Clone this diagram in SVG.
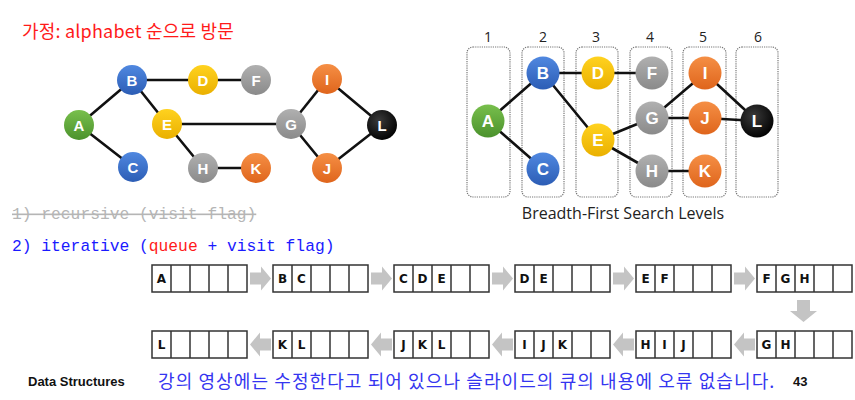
<svg xmlns="http://www.w3.org/2000/svg" xmlns:xlink="http://www.w3.org/1999/xlink" width="855" height="400" viewBox="0 0 855 400">
<style>
.edge{stroke:#111;stroke-width:2.6;fill:none;stroke-linecap:round}
.nl{font-family:"Liberation Sans",Arial,sans-serif;font-weight:bold;fill:#fff;text-anchor:middle}
.nl1{font-size:15px}
.nl2{font-size:17px}
.lvl{fill:none;stroke:#777;stroke-width:1.2;stroke-dasharray:1.2 1}
.lvn{font-family:"Open Sans","Liberation Sans",sans-serif;font-size:14px;fill:#222;text-anchor:middle}
.qc{fill:#fff;stroke:#333;stroke-width:1.5}
.ql{stroke:#333;stroke-width:1.5}
.qt{font-family:"DejaVu Sans",Verdana,sans-serif;font-weight:bold;font-size:12px;fill:#111;text-anchor:middle}
.arr{fill:#c4c4c4}
.mono{font-family:"Liberation Mono","DejaVu Sans Mono",monospace;font-size:16.3px}
.foot{font-family:"Liberation Sans",Arial,sans-serif;font-weight:bold;font-size:13px;fill:#111}
</style>
<defs>
<linearGradient id="gBlue" x1="0" y1="0" x2="0" y2="1"><stop offset="0" stop-color="#5088e0"/><stop offset="1" stop-color="#2c5db5"/></linearGradient>
<linearGradient id="gGreen" x1="0" y1="0" x2="0" y2="1"><stop offset="0" stop-color="#78bf4c"/><stop offset="1" stop-color="#4b922d"/></linearGradient>
<linearGradient id="gYellow" x1="0" y1="0" x2="0" y2="1"><stop offset="0" stop-color="#ffd21f"/><stop offset="1" stop-color="#eab000"/></linearGradient>
<linearGradient id="gGray" x1="0" y1="0" x2="0" y2="1"><stop offset="0" stop-color="#b0b0b0"/><stop offset="1" stop-color="#8a8a8a"/></linearGradient>
<linearGradient id="gOrange" x1="0" y1="0" x2="0" y2="1"><stop offset="0" stop-color="#f58f45"/><stop offset="1" stop-color="#df651c"/></linearGradient>
<radialGradient id="gBlack" cx="0.4" cy="0.35" r="0.7"><stop offset="0" stop-color="#3a3a3a"/><stop offset="1" stop-color="#000"/></radialGradient>
<g id="queue">
<rect class="qc" x="0" y="0" width="95" height="27"/>
<path class="ql" d="M19,0V27M38,0V27M57,0V27M76,0V27"/>
</g>
<path id="ra" class="arr" d="M0,-6H11V-12L21,0L11,12V6H0Z"/>
<path id="la" class="arr" d="M21,-6H10V-12L0,0L10,12V6H21Z"/>
</defs>

<text x="22" y="38" font-family="'Noto Sans CJK KR','Malgun Gothic',sans-serif" font-size="18" letter-spacing="0.2" fill="#ff1a1a">가정: alphabet 순으로 방문</text>

<!-- left graph connectors -->
<g id="left-edges">
<line class="edge" x1="79" y1="125" x2="132" y2="80"/>
<line class="edge" x1="79" y1="125" x2="133" y2="167"/>
<line class="edge" x1="132" y1="80" x2="203" y2="80"/>
<line class="edge" x1="203" y1="80" x2="256" y2="80"/>
<line class="edge" x1="132" y1="80" x2="167" y2="124"/>
<line class="edge" x1="167" y1="124" x2="291" y2="124"/>
<line class="edge" x1="167" y1="124" x2="203" y2="168"/>
<line class="edge" x1="203" y1="168" x2="256" y2="168"/>
<line class="edge" x1="291" y1="124" x2="327" y2="79"/>
<line class="edge" x1="291" y1="124" x2="327" y2="168"/>
<line class="edge" x1="327" y1="79" x2="382" y2="125"/>
<line class="edge" x1="327" y1="168" x2="382" y2="125"/>
</g>
<g id="L-A"><circle cx="79" cy="125" r="15" fill="url(#gGreen)"/><text class="nl nl1" x="79" y="130.5">A</text></g>
<g id="L-B"><circle cx="132" cy="80" r="15" fill="url(#gBlue)"/><text class="nl nl1" x="132" y="85.5">B</text></g>
<g id="L-C"><circle cx="133" cy="167" r="15" fill="url(#gBlue)"/><text class="nl nl1" x="133" y="172.5">C</text></g>
<g id="L-D"><circle cx="203" cy="80" r="15" fill="url(#gYellow)"/><text class="nl nl1" x="203" y="85.5">D</text></g>
<g id="L-E"><circle cx="167" cy="124" r="15" fill="url(#gYellow)"/><text class="nl nl1" x="167" y="129.5">E</text></g>
<g id="L-F"><circle cx="256" cy="80" r="15" fill="url(#gGray)"/><text class="nl nl1" x="256" y="85.5">F</text></g>
<g id="L-G"><circle cx="291" cy="124" r="15" fill="url(#gGray)"/><text class="nl nl1" x="291" y="129.5">G</text></g>
<g id="L-H"><circle cx="203" cy="168" r="15" fill="url(#gGray)"/><text class="nl nl1" x="203" y="173.5">H</text></g>
<g id="L-I"><circle cx="327" cy="79" r="15" fill="url(#gOrange)"/><text class="nl nl1" x="327" y="84.5">I</text></g>
<g id="L-J"><circle cx="327" cy="168" r="15" fill="url(#gOrange)"/><text class="nl nl1" x="327" y="173.5">J</text></g>
<g id="L-K"><circle cx="256" cy="168" r="15" fill="url(#gOrange)"/><text class="nl nl1" x="256" y="173.5">K</text></g>
<g id="L-L"><circle cx="382" cy="125" r="15" fill="url(#gBlack)"/><text class="nl nl1" x="382" y="130.5">L</text></g>

<!-- right graph: level boxes -->
<g id="levels">
<rect class="lvl" x="467" y="47" width="43" height="150" rx="6"/>
<rect class="lvl" x="522" y="47" width="42" height="150" rx="6"/>
<rect class="lvl" x="576" y="47" width="42" height="150" rx="6"/>
<rect class="lvl" x="630" y="47" width="42" height="150" rx="6"/>
<rect class="lvl" x="683" y="47" width="43" height="150" rx="6"/>
<rect class="lvl" x="736" y="47" width="42" height="150" rx="6"/>
<text class="lvn" x="488" y="42">1</text>
<text class="lvn" x="543" y="42">2</text>
<text class="lvn" x="596" y="42">3</text>
<text class="lvn" x="650" y="42">4</text>
<text class="lvn" x="703" y="42">5</text>
<text class="lvn" x="758" y="42">6</text>
</g>
<g id="right-edges">
<line class="edge" x1="488" y1="121" x2="543" y2="73"/>
<line class="edge" x1="488" y1="121" x2="543" y2="169"/>
<line class="edge" x1="543" y1="73" x2="598" y2="73"/>
<line class="edge" x1="543" y1="73" x2="598" y2="140"/>
<line class="edge" x1="598" y1="73" x2="652" y2="73"/>
<line class="edge" x1="598" y1="140" x2="652" y2="118"/>
<line class="edge" x1="598" y1="140" x2="652" y2="171"/>
<line class="edge" x1="652" y1="118" x2="705" y2="73"/>
<line class="edge" x1="652" y1="118" x2="705" y2="118"/>
<line class="edge" x1="652" y1="171" x2="705" y2="171"/>
<line class="edge" x1="705" y1="73" x2="757" y2="121"/>
<line class="edge" x1="705" y1="118" x2="757" y2="121"/>
</g>
<g id="R-A"><circle cx="488" cy="121" r="16.5" fill="url(#gGreen)"/><text class="nl nl2" x="488" y="127">A</text></g>
<g id="R-B"><circle cx="543" cy="73" r="16.5" fill="url(#gBlue)"/><text class="nl nl2" x="543" y="79">B</text></g>
<g id="R-C"><circle cx="543" cy="169" r="16.5" fill="url(#gBlue)"/><text class="nl nl2" x="543" y="175">C</text></g>
<g id="R-D"><circle cx="598" cy="73" r="16.5" fill="url(#gYellow)"/><text class="nl nl2" x="598" y="79">D</text></g>
<g id="R-E"><circle cx="598" cy="140" r="16.5" fill="url(#gYellow)"/><text class="nl nl2" x="598" y="146">E</text></g>
<g id="R-F"><circle cx="652" cy="73" r="16.5" fill="url(#gGray)"/><text class="nl nl2" x="652" y="79">F</text></g>
<g id="R-G"><circle cx="652" cy="118" r="16.5" fill="url(#gGray)"/><text class="nl nl2" x="652" y="124">G</text></g>
<g id="R-H"><circle cx="652" cy="171" r="16.5" fill="url(#gGray)"/><text class="nl nl2" x="652" y="177">H</text></g>
<g id="R-I"><circle cx="705" cy="73" r="16.5" fill="url(#gOrange)"/><text class="nl nl2" x="705" y="79">I</text></g>
<g id="R-J"><circle cx="705" cy="118" r="16.5" fill="url(#gOrange)"/><text class="nl nl2" x="705" y="124">J</text></g>
<g id="R-K"><circle cx="705" cy="171" r="16.5" fill="url(#gOrange)"/><text class="nl nl2" x="705" y="177">K</text></g>
<g id="R-L"><circle cx="757" cy="121" r="16.5" fill="url(#gBlack)"/><text class="nl nl2" x="757" y="127">L</text></g>
<text x="623" y="219" font-family="'Open Sans','Liberation Sans',sans-serif" font-size="16" fill="#222" text-anchor="middle">Breadth-First Search Levels</text>

<text class="mono" x="12" y="219" fill="#b5b5b5" text-decoration="line-through">1) recursive (visit flag)</text>
<text class="mono" x="12" y="251" fill="#1a1aff">2) iterative (<tspan fill="#ff1a1a">queue</tspan> + visit flag)</text>

<!-- queues row 1 -->
<g id="q1"><use xlink:href="#queue" x="152" y="265"/><text class="qt" x="161.5" y="283">A</text></g>
<g id="q2"><use xlink:href="#queue" x="273" y="265"/><text class="qt" x="282.5" y="283">B</text><text class="qt" x="301.5" y="283">C</text></g>
<g id="q3"><use xlink:href="#queue" x="394" y="265"/><text class="qt" x="403.5" y="283">C</text><text class="qt" x="422.5" y="283">D</text><text class="qt" x="441.5" y="283">E</text></g>
<g id="q4"><use xlink:href="#queue" x="515" y="265"/><text class="qt" x="524.5" y="283">D</text><text class="qt" x="543.5" y="283">E</text></g>
<g id="q5"><use xlink:href="#queue" x="636" y="265"/><text class="qt" x="645.5" y="283">E</text><text class="qt" x="664.5" y="283">F</text></g>
<g id="q6"><use xlink:href="#queue" x="757" y="265"/><text class="qt" x="766.5" y="283">F</text><text class="qt" x="785.5" y="283">G</text><text class="qt" x="804.5" y="283">H</text></g>
<!-- queues row 2 -->
<g id="q7"><use xlink:href="#queue" x="757" y="331"/><text class="qt" x="766.5" y="349">G</text><text class="qt" x="785.5" y="349">H</text></g>
<g id="q8"><use xlink:href="#queue" x="636" y="331"/><text class="qt" x="645.5" y="349">H</text><text class="qt" x="664.5" y="349">I</text><text class="qt" x="683.5" y="349">J</text></g>
<g id="q9"><use xlink:href="#queue" x="515" y="331"/><text class="qt" x="524.5" y="349">I</text><text class="qt" x="543.5" y="349">J</text><text class="qt" x="562.5" y="349">K</text></g>
<g id="q10"><use xlink:href="#queue" x="394" y="331"/><text class="qt" x="403.5" y="349">J</text><text class="qt" x="422.5" y="349">K</text><text class="qt" x="441.5" y="349">L</text></g>
<g id="q11"><use xlink:href="#queue" x="273" y="331"/><text class="qt" x="282.5" y="349">K</text><text class="qt" x="301.5" y="349">L</text></g>
<g id="q12"><use xlink:href="#queue" x="152" y="331"/><text class="qt" x="161.5" y="349">L</text></g>

<g id="queue-arrows">
<use xlink:href="#ra" x="250" y="278.5"/>
<use xlink:href="#ra" x="371" y="278.5"/>
<use xlink:href="#ra" x="492" y="278.5"/>
<use xlink:href="#ra" x="613" y="278.5"/>
<use xlink:href="#ra" x="734" y="278.5"/>
<path class="arr" d="M797,300V311H790L803.5,322L817,311H810V300Z"/>
<use xlink:href="#la" x="734" y="344.5"/>
<use xlink:href="#la" x="613" y="344.5"/>
<use xlink:href="#la" x="492" y="344.5"/>
<use xlink:href="#la" x="371" y="344.5"/>
<use xlink:href="#la" x="250" y="344.5"/>
</g>

<text class="foot" x="28" y="386">Data Structures</text>
<text x="158" y="388" font-family="'Noto Sans CJK KR','Malgun Gothic',sans-serif" font-size="18" letter-spacing="1.1" fill="#3535f0">강의 영상에는 수정한다고 되어 있으나 슬라이드의 큐의 내용에 오류 없습니다.</text>
<text class="foot" x="793" y="386">43</text>
</svg>
